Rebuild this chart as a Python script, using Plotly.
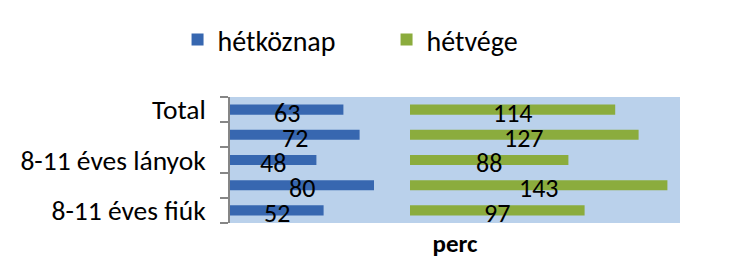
import plotly.graph_objects as go

categories = ["8-11 éves fiúk", "12-15 éves fiúk", "8-11 éves lányok", "12-15 éves lányok", "Total"]
tick_labels = ["8-11 éves fiúk", "", "8-11 éves lányok", "", "Total"]
weekday = [52, 80, 48, 72, 63]
weekend = [97, 143, 88, 127, 114]
series_names = ["hétköznap", "hétvége"]
axis_title = "perc"

WEEKEND_BASE = 100
FONT = "Carlito, Lato, sans-serif"
BLUE = "#3767B0"
GREEN = "#8BAC3D"
BG = "#BAD1EB"

fig = go.Figure()
fig.add_trace(go.Bar(y=categories, x=weekday, orientation="h", name=series_names[0],
                     marker=dict(color=BLUE, line=dict(width=0))))
fig.add_trace(go.Bar(y=categories, x=weekend, base=[WEEKEND_BASE] * len(weekend), orientation="h",
                     name=series_names[1], marker=dict(color=GREEN, line=dict(width=0))))

ann = []
for c, v in zip(categories, weekday):
    ann.append(dict(x=v / 2, y=c, text=str(v), showarrow=False, yshift=-3,
                    font=dict(family=FONT, size=26, color="black")))
for c, v in zip(categories, weekend):
    ann.append(dict(x=WEEKEND_BASE + v / 2, y=c, text=str(v), showarrow=False, yshift=-3,
                    font=dict(family=FONT, size=26, color="black")))

fig.update_layout(
    width=746, height=271,
    margin=dict(l=229.5, r=66, t=97, b=48),
    paper_bgcolor="white", plot_bgcolor=BG,
    barmode="overlay", bargap=0.6,
    font=dict(family=FONT, size=26, color="black"),
    showlegend=True,
    legend=dict(orientation="h", xref="container", yref="container", x=0.238, y=0.945,
                xanchor="left", yanchor="top", font=dict(size=28), entrywidth=164,
                traceorder="normal"),
    annotations=ann,
    xaxis=dict(range=[0, 250], showticklabels=False, showgrid=False, zeroline=False,
               showline=False, ticks="", fixedrange=True,
               title=dict(text="<b>" + axis_title + "</b>", font=dict(size=25), standoff=11)),
    yaxis=dict(type="category", categoryorder="array", categoryarray=categories,
               tickmode="array", tickvals=categories, ticktext=tick_labels,
               tickson="boundaries", ticks="outside", ticklen=8, tickcolor="#868686",
               tickwidth=1.5, showline=True, linecolor="#868686", linewidth=1.5,
               showgrid=False, ticklabelstandoff=17, tickfont=dict(size=27.5),
               range=[-0.5, 4.5]),
)

fig.write_html("out.html")
